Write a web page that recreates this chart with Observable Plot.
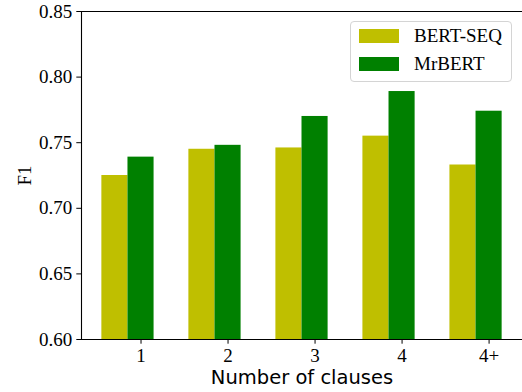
<!DOCTYPE html>
<html>
<head>
<meta charset="utf-8">
<script src="https://cdn.jsdelivr.net/npm/d3@7"></script>
<script src="https://cdn.jsdelivr.net/npm/@observablehq/plot@0.6"></script>
<style>
  html, body { margin: 0; padding: 0; background: #fff; }
  #wrap { position: relative; width: 522px; height: 392px; }
  #wrap svg text { font-family: "Liberation Serif", serif; }
  #wrap svg text.sans, #wrap svg g.sans text { font-family: "DejaVu Sans", sans-serif; }
  .legend { position: absolute; left: 350px; top: 21px; width: 160px; height: 59px;
    border: 1px solid #d4d4d4; border-radius: 4px; background: rgba(255,255,255,0.8);
    font-family: "Liberation Serif", serif; font-size: 19px; color: #000; }
  .legend .item { position: absolute; left: 8px; height: 14px; }
  .legend .sw { position: absolute; left: 0; top: 0; width: 40px; height: 14px; }
  .legend .lab { position: absolute; left: 55px; top: -4px; line-height: 22px; white-space: nowrap; }
</style>
</head>
<body>
<div id="wrap"></div>
<script>
const categories = ["1", "2", "3", "4", "4+"];
const bertSeq = [0.725, 0.745, 0.746, 0.755, 0.733];
const mrBert = [0.739, 0.748, 0.770, 0.789, 0.774];
const seriesNames = ["BERT-SEQ", "MrBERT"];
const seriesColors = ["#bfbf00", "#008000"];
const yTicks = [0.60, 0.65, 0.70, 0.75, 0.80, 0.85];

const barW = 0.3;
const rows = [];
categories.forEach((c, i) => {
  rows.push({series: seriesNames[0], x1: i - barW, x2: i, y: bertSeq[i]});
  rows.push({series: seriesNames[1], x1: i, x2: i + barW, y: mrBert[i]});
});
const xTickPos = categories.map((c, i) => i + barW / 2);
const xDomain = [-0.534, categories.length - 1 + 0.534];
const yDomain = [0.60, 0.85];
const serif = "Liberation Serif, serif";

const chart = Plot.plot({
  width: 522,
  height: 392,
  marginTop: 11,
  marginLeft: 81,
  marginRight: 0,
  marginBottom: 53,
  style: {fontFamily: serif, fontSize: "19px", color: "#000", background: "#fff"},
  x: {type: "linear", domain: xDomain},
  y: {domain: yDomain},
  color: {domain: seriesNames, range: seriesColors},
  marks: [
    Plot.rectY(rows, {x1: "x1", x2: "x2", y1: yDomain[0], y2: "y", fill: "series", inset: 0}),
    Plot.ruleY([yDomain[0], yDomain[1]], {stroke: "#000", strokeWidth: 1.1}),
    Plot.ruleX([xDomain[0]], {stroke: "#000", strokeWidth: 1.1}),
    Plot.axisY({ticks: yTicks, tickFormat: d3.format(".2f"), tickSize: 4.7, tickPadding: 4.5, label: null, fontSize: 19, fontFamily: serif}),
    Plot.axisX({ticks: xTickPos, tickFormat: (d, i) => categories[i], tickSize: 4.7, tickPadding: 4.3, label: null, fontSize: 19, fontFamily: serif}),
    Plot.text(["F1"], {frameAnchor: "left", dx: -57, rotate: -90, fontSize: 19, fontFamily: serif, textAnchor: "middle", lineAnchor: "middle"}),
    Plot.text(["Number of clauses"], {frameAnchor: "bottom", dy: 38, fontSize: 19.5, fontFamily: "DejaVu Sans, sans-serif", lineAnchor: "middle", className: "sans"})
  ]
});
const wrap = document.getElementById("wrap");
wrap.appendChild(chart);

const legend = document.createElement("div");
legend.className = "legend";
seriesNames.forEach((name, i) => {
  const item = document.createElement("div");
  item.className = "item";
  item.style.top = (7 + i * 28) + "px";
  const sw = document.createElement("div");
  sw.className = "sw";
  sw.style.background = seriesColors[i];
  const lab = document.createElement("div");
  lab.className = "lab";
  lab.textContent = name;
  item.appendChild(sw);
  item.appendChild(lab);
  legend.appendChild(item);
});
wrap.appendChild(legend);
</script>
</body>
</html>
